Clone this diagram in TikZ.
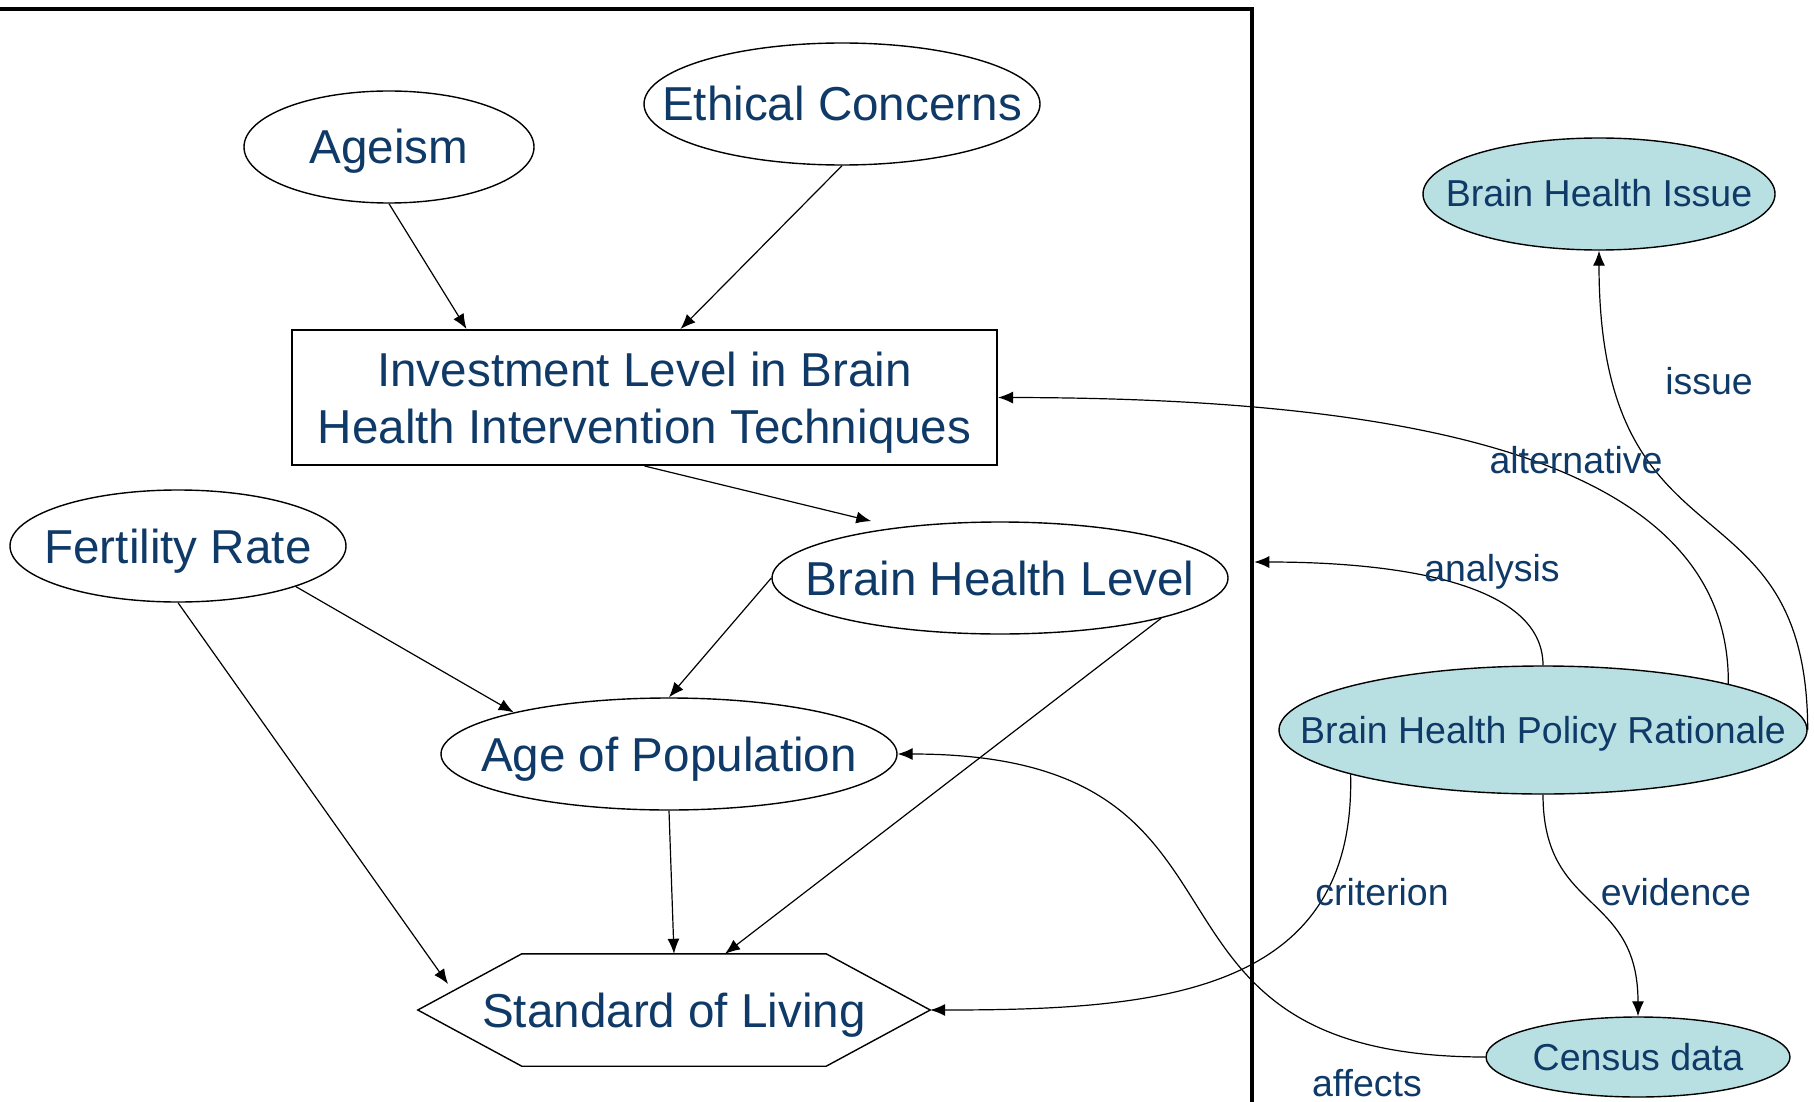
\documentclass[tikz,border=0pt]{standalone}
\usepackage{fontspec}
\setmainfont{Liberation Sans}
\usetikzlibrary{shapes.geometric,arrows.meta}
\definecolor{txt}{HTML}{0F3A68}
\definecolor{cy}{HTML}{B8DFE1}
\newcommand{\bt}[1]{\makebox[0pt]{\raisebox{-17pt}[0pt][0pt]{#1}}}
\newcommand{\st}[1]{\makebox[0pt]{\raisebox{-13pt}[0pt][0pt]{#1}}}
\begin{document}
\begin{tikzpicture}[x=1pt,y=-1pt,
  big/.style={font=\fontsize{47.6pt}{57pt}\selectfont, text=txt},
  small/.style={font=\fontsize{37.5pt}{45pt}\selectfont, text=txt},
  ell/.style={ellipse, draw, line width=1.4pt, inner sep=0pt},
  cyell/.style={ell, fill=cy, small},
  arr/.style={-{Latex[length=15pt,width=12pt]}, line width=1.2pt},
  lbl/.style={small, inner sep=0pt}]
\useasboundingbox (0,0) rectangle (1814,1102);
\clip (0,0) rectangle (1814,1102);
\fill[white] (0,0) rectangle (1814,1102);
% frame
\node[draw, line width=4.5pt, minimum width=1272pt, minimum height=1106pt, inner sep=0pt] (frame) at (616,562) {};
% left nodes
\node[ell,big,minimum width=290pt,minimum height=112pt] (ageism) at (389,147) {\bt{Ageism}};
\node[ell,big,minimum width=396pt,minimum height=122pt] (ethical) at (842,104) {\bt{Ethical Concerns}};
\node[draw,line width=2pt,minimum width=705pt,minimum height=135pt,inner sep=0pt] (inv) at (644.5,397.5) {};
\node[big,align=center,inner sep=0pt] (invtext) at ([yshift=-5pt]inv.center) {Investment Level in Brain\\Health Intervention Techniques};
\node[ell,big,minimum width=336pt,minimum height=112pt] (fert) at (178,546) {\bt{Fertility Rate}};
\node[ell,big,minimum width=456pt,minimum height=112pt] (bhl) at (1000,578) {\bt{Brain Health Level}};
\node[ell,big,minimum width=456pt,minimum height=112pt] (agepop) at (669,754) {\bt{Age of Population}};
\node[big,minimum width=512pt,minimum height=112pt,inner sep=0pt] (sol) at (674,1010) {\bt{Standard of Living}};
\draw[line width=1.4pt] (sol.west) -- ([xshift=104pt]sol.north west) -- ([xshift=-104pt]sol.north east) -- (sol.east) -- ([xshift=-104pt]sol.south east) -- ([xshift=104pt]sol.south west) -- cycle;
\coordinate (solL) at (448,984);
% right nodes
\node[cyell,minimum width=352pt,minimum height=112pt] (bhi) at (1599,194) {\st{Brain Health Issue}};
\node[cyell,minimum width=528pt,minimum height=128pt] (bhpr) at (1543,730) {\st{Brain Health Policy Rationale}};
\node[cyell,minimum width=304pt,minimum height=80pt] (census) at (1638,1057) {\st{Census data}};
% left connectors
\draw[arr] (ageism.south) -- ([xshift=-178pt]inv.north);
\draw[arr] (ethical.south) -- ([xshift=36pt]inv.north);
\draw[arr] (inv.south) -- ([yshift=10pt]bhl.160);
\draw[arr] (fert.-19) -- (agepop.165);
\draw[arr] (fert.south) -- (solL);
\draw[arr] (bhl.west) -- (agepop.north);
\draw[arr] (bhl.-14) -- ([xshift=51pt]sol.north);
\draw[arr] (agepop.south) -- (sol.north);
% right connectors
\draw[arr] (census.west) .. controls (1100,1057) and (1292,754) .. (agepop.east);
\draw[arr] (bhpr.193.5) .. controls (1356,995) and (1157,1010) .. (sol.east);
\draw[arr] (bhpr.north) .. controls (1543,580) and (1388,562) .. (frame.east);
\draw[arr] (bhpr.14) .. controls (1730,470) and (1446,398) .. (inv.east);
\draw[arr] (bhpr.east) .. controls (1807,470) and (1599,580) .. (bhi.south);
\draw[arr] (bhpr.south) .. controls (1543,914) and (1638,891) .. (census.north);
% labels
\node[lbl] (lissue) at (1709,381) {issue};
\node[lbl] (lalt) at (1576,460) {alternative};
\node[lbl] (lana) at (1492,572) {analysis};
\node[lbl] (lcrit) at (1382,892) {criterion};
\node[lbl] (lev) at (1676,892) {evidence};
\node[lbl] (laff) at (1367,1083) {affects};
\end{tikzpicture}
\end{document}
